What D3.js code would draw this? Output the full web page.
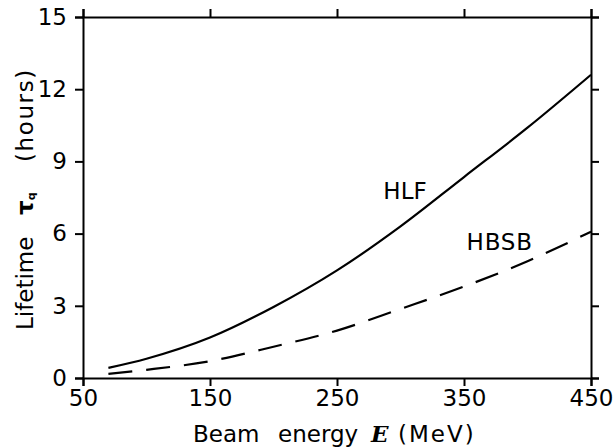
<!DOCTYPE html>
<html>
<head>
<meta charset="utf-8">
<script src="https://cdn.jsdelivr.net/npm/d3@7"></script>
<style>
  body { margin: 0; background: #fff; }
  svg { display: block; }
  .axis path, .axis line { stroke: #000; stroke-width: 2; }
  .axis text { font-family: "DejaVu Sans", sans-serif; font-size: 23px; fill: #000; }
</style>
</head>
<body>
<svg width="615" height="448"></svg>
<script>
// Data.
var energy = [70, 100, 150, 200, 250, 300, 350, 400, 450];
var hlf    = [0.42, 0.8, 1.68, 2.95, 4.47, 6.3, 8.35, 10.4, 12.6];
var hbsb   = [0.17, 0.34, 0.7, 1.3, 1.97, 2.87, 3.8, 4.85, 6.08];
var xTicks = [50, 150, 250, 350, 450];
var yTicks = [0, 3, 6, 9, 12, 15];

var svg = d3.select("svg"),
    margin = {top: 17, right: 24, bottom: 70, left: 83},
    w = 615 - margin.left - margin.right,
    h = 448 - margin.top - margin.bottom,
    g = svg.append("g").attr("transform", "translate(" + margin.left + "," + margin.top + ")");

var x = d3.scaleLinear().domain([50, 450]).range([0, w]);
var y = d3.scaleLinear().domain([0, 15]).range([h, 0]);

// axes, ticks pointing outward on all four sides
g.append("g").attr("class", "axis")
    .attr("transform", "translate(0," + h + ")")
    .call(d3.axisBottom(x).tickValues(xTicks).tickSize(8).tickSizeOuter(8).tickPadding(4));
g.append("g").attr("class", "axis")
    .call(d3.axisTop(x).tickValues(xTicks).tickSize(8).tickSizeOuter(8).tickFormat(""));
g.append("g").attr("class", "axis")
    .call(d3.axisLeft(y).tickValues(yTicks).tickSize(8).tickSizeOuter(8).tickPadding(8));
g.append("g").attr("class", "axis")
    .attr("transform", "translate(" + w + ",0)")
    .call(d3.axisRight(y).tickValues(yTicks).tickSize(8).tickSizeOuter(8).tickFormat(""));

svg.selectAll(".axis path").attr("fill", "none");

// curves
var line = d3.line()
    .x(function(d) { return x(d[0]); })
    .y(function(d) { return y(d[1]); })
    .curve(d3.curveMonotoneX);

g.append("path")
    .datum(d3.zip(energy, hlf))
    .attr("fill", "none")
    .attr("stroke", "#000")
    .attr("stroke-width", 2.2)
    .attr("d", line);

g.append("path")
    .datum(d3.zip(energy, hbsb))
    .attr("fill", "none")
    .attr("stroke", "#000")
    .attr("stroke-width", 2.2)
    .attr("stroke-dasharray", "24,14")
    .attr("d", line);

// curve labels
var labelFont = '"DejaVu Sans", sans-serif';
g.append("text")
    .attr("x", x(286.5)).attr("y", y(7.45))
    .style("font-family", labelFont).style("font-size", "23px")
    .text("HLF");
g.append("text")
    .attr("x", x(352)).attr("y", y(5.32))
    .style("font-family", labelFont).style("font-size", "23px")
    .style("letter-spacing", "0.8px")
    .text("HBSB");

// axis titles
var xt = svg.append("text")
    .attr("y", 442)
    .style("font-family", labelFont).style("font-size", "23px");
xt.append("tspan").attr("x", 193).text("Beam");
xt.append("tspan").attr("x", 278).text("energy");
xt.append("tspan").attr("x", 371).style("font-family", '"DejaVu Serif", serif')
    .style("font-style", "italic").style("font-weight", "bold").text("E");
xt.append("tspan").attr("x", 398).style("letter-spacing", "2px").text("(MeV)");

var yt = svg.append("text")
    .attr("transform", "translate(33,0) rotate(-90)")
    .style("font-family", labelFont).style("font-size", "23px");
yt.append("tspan").attr("x", -330).text("Lifetime");
yt.append("tspan").attr("x", -215).style("font-weight", "bold").text("\u03c4");
yt.append("tspan").attr("baseline-shift", "-20%").style("font-size", "11px").style("font-weight", "bold").text("q");
yt.append("tspan").attr("x", -162).style("letter-spacing", "1.6px").text("(hours)");
</script>
</body>
</html>
